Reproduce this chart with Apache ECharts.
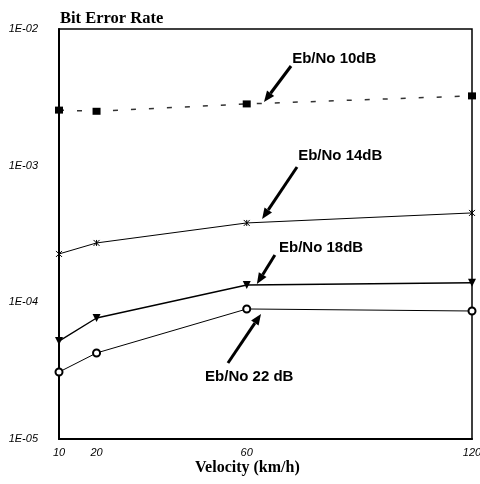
<!DOCTYPE html>
<html>
<head>
<meta charset="utf-8">
<script src="https://cdn.jsdelivr.net/npm/echarts@6/dist/echarts.min.js"></script>
<style>html,body{margin:0;padding:0;background:#fff}#c{width:480px;height:484px}</style>
</head>
<body>
<div id="c"></div>
<script>
// ---- data ----
var velocities = [10, 20, 60, 120];
var xTickValues = [10, 20, 60, 120];
var yTickLabels = ['1E-05', '1E-04', '1E-03', '1E-02'];
var ber10dB = [2.55e-3, 2.50e-3, 2.83e-3, 3.24e-3];
var ber14dB = [2.26e-4, 2.72e-4, 3.81e-4, 4.51e-4];
var ber18dB = [5.21e-5, 7.68e-5, 1.34e-4, 1.39e-4];
var ber22dB = [3.09e-5, 4.26e-5, 8.94e-5, 8.64e-5];
// annotation labels: text, text anchor (data coords), arrow tail, arrow tip (data coords)
var annoText = ['Eb/No 10dB', 'Eb/No 14dB', 'Eb/No 18dB', 'Eb/No 22 dB'];
var annoTextAt = [[72.1, 6.03e-3], [73.7, 1.18e-3], [68.6, 2.50e-4], [48.9, 2.85e-5]];
var annoTail = [[71.8, 5.36e-3], [73.4, 9.78e-4], [67.5, 2.22e-4], [55.0, 3.60e-5]];
var annoTip = [[64.6, 2.92e-3], [64.1, 4.07e-4], [62.7, 1.36e-4], [63.8, 8.22e-5]];

function pairs(ys) { return velocities.map(function (v, i) { return [v, ys[i]]; }); }

var chart = echarts.init(document.getElementById('c'));
var option = {
  backgroundColor: '#fff',
  animation: false,
  title: [
    { text: 'Bit Error Rate', left: 60, top: 10, padding: 0,
      textStyle: { fontFamily: 'Liberation Serif', fontWeight: 'bold', fontSize: 16.5, color: '#000' } },
    { text: 'Velocity (km/h)', left: 195, top: 460, padding: 0,
      textStyle: { fontFamily: 'Liberation Serif', fontWeight: 'bold', fontSize: 16, color: '#000' } }
  ],
  grid: { left: 59, right: 8, top: 29, bottom: 45, show: true, borderColor: '#000', borderWidth: 1.5,
    containLabel: false, outerBoundsMode: 'none' },
  xAxis: {
    type: 'value', min: 10, max: 120,
    axisLine: { show: true, onZero: false, lineStyle: { color: '#000', width: 2 } },
    axisTick: { show: false },
    splitLine: { show: false },
    axisLabel: { customValues: xTickValues, margin: 8, color: '#000', fontStyle: 'italic',
      fontFamily: 'Liberation Sans', fontSize: 11, hideOverlap: false }
  },
  yAxis: {
    type: 'log', logBase: 10, min: 1e-5, max: 1e-2,
    axisLine: { show: true, lineStyle: { color: '#000', width: 2 } },
    axisTick: { show: false },
    splitLine: { show: false },
    minorTick: { show: false },
    axisLabel: { margin: 21, color: '#000', fontStyle: 'italic', fontFamily: 'Liberation Sans', fontSize: 11,
      formatter: function (v) { var e = Math.round(Math.log10(v)); return yTickLabels[e + 5]; } }
  },
  series: [
    { name: 'Eb/No 10dB', type: 'line', data: pairs(ber10dB), symbol: 'rect', symbolSize: [8, 7],
      lineStyle: { color: '#333', width: 1.5, type: [5, 13] }, itemStyle: { color: '#000' } },
    { name: 'Eb/No 14dB', type: 'line', data: pairs(ber14dB),
      symbol: 'path://M0,0L10,10M10,0L0,10M5,0L5,10', symbolSize: 6,
      lineStyle: { color: '#000', width: 1 }, itemStyle: { color: '#000', borderColor: '#000', borderWidth: 1 } },
    { name: 'Eb/No 18dB', type: 'line', data: pairs(ber18dB), symbol: 'triangle', symbolRotate: 180, symbolSize: 8,
      lineStyle: { color: '#000', width: 1.4 }, itemStyle: { color: '#000' } },
    { name: 'Eb/No 22dB', type: 'line', data: pairs(ber22dB), symbol: 'emptyCircle', symbolSize: 7,
      lineStyle: { color: '#000', width: 1 }, itemStyle: { color: '#000', borderColor: '#000', borderWidth: 0.8 } }
  ]
};
chart.setOption(option);

// annotations with arrows, anchored in data coordinates
var gfx = [];
for (var i = 0; i < annoText.length; i++) {
  var t = chart.convertToPixel({ gridIndex: 0 }, annoTextAt[i]);
  var a = chart.convertToPixel({ gridIndex: 0 }, annoTail[i]);
  var b = chart.convertToPixel({ gridIndex: 0 }, annoTip[i]);
  var dx = b[0] - a[0], dy = b[1] - a[1], L = Math.sqrt(dx * dx + dy * dy);
  var ux = dx / L, uy = dy / L, hl = 11, hw = 4.5;
  var bx = b[0] - ux * hl, by = b[1] - uy * hl;
  gfx.push({ type: 'line', shape: { x1: a[0], y1: a[1], x2: bx, y2: by }, style: { stroke: '#000', lineWidth: 3 } });
  gfx.push({ type: 'polygon', shape: { points: [[b[0], b[1]], [bx - uy * hw, by + ux * hw], [bx + uy * hw, by - ux * hw]] },
    style: { fill: '#000' } });
  gfx.push({ type: 'text', x: t[0], y: t[1], style: { text: annoText[i], fill: '#000',
    font: 'bold 15px "Liberation Sans", Arial, sans-serif', verticalAlign: 'middle', align: 'left' } });
}
chart.setOption({ graphic: gfx });
</script>
</body>
</html>
